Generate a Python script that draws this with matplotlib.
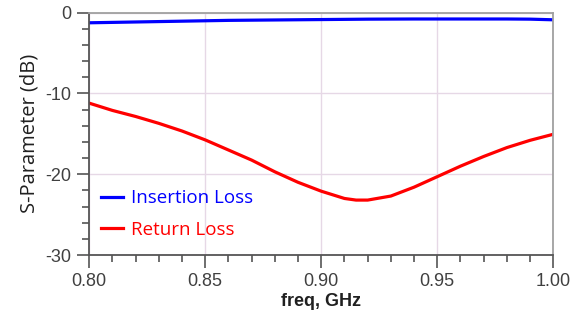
import matplotlib
matplotlib.use("Agg")
import matplotlib.pyplot as plt
from matplotlib.ticker import MultipleLocator

freq = [0.80, 0.81, 0.82, 0.83, 0.84, 0.85, 0.86, 0.87, 0.88, 0.89, 0.90,
        0.91, 0.915, 0.92, 0.93, 0.94, 0.95, 0.96, 0.97, 0.98, 0.99, 1.00]
return_loss = [-11.2, -12.1, -12.85, -13.7, -14.65, -15.75, -17.0, -18.25, -19.7, -21.0, -22.1,
               -23.0, -23.2, -23.2, -22.7, -21.6, -20.3, -19.0, -17.8, -16.7, -15.8, -15.05]
freq_il = [0.80, 0.82, 0.84, 0.86, 0.88, 0.90, 0.92, 0.94, 0.96, 0.98, 0.99, 1.00]
insertion_loss = [-1.25, -1.15, -1.05, -0.95, -0.9, -0.85, -0.8, -0.78, -0.78, -0.78, -0.8, -0.88]

x_ticks = [0.80, 0.85, 0.90, 0.95, 1.00]
x_ticklabels = ["0.80", "0.85", "0.90", "0.95", "1.00"]
y_ticks = [0, -10, -20, -30]
y_ticklabels = ["0", "-10", "-20", "-30"]

plt.rcParams['font.family'] = ['Liberation Sans', 'DejaVu Sans']

fig = plt.figure(figsize=(5.87, 3.23), dpi=100)
ax = fig.add_axes([0.152, 0.2105, 0.7906, 0.7502])

ax.plot(freq_il, insertion_loss, color="#0000ff", lw=2.3, label="Insertion Loss")
ax.plot(freq, return_loss, color="#ff0000", lw=2.3, label="Return Loss")

ax.set_xlim(0.80, 1.00)
ax.set_ylim(-30, 0)
ax.set_xticks(x_ticks)
ax.set_xticklabels(x_ticklabels)
ax.set_yticks(y_ticks)
ax.set_yticklabels(y_ticklabels)
ax.xaxis.set_minor_locator(MultipleLocator(0.01))
ax.yaxis.set_minor_locator(MultipleLocator(2))

ax.grid(True, which="major", color="#e6d8e6", lw=1.0)
ax.set_axisbelow(True)

ax.tick_params(which="major", direction="out", length=9, width=1.2, color="#555555",
               labelsize=13, labelcolor="#404040", pad=4)
ax.tick_params(which="minor", direction="out", length=5, width=1.2, color="#555555")

for s in ["left", "bottom"]:
    ax.spines[s].set_color("#555555")
    ax.spines[s].set_linewidth(1.3)
for s in ["top", "right"]:
    ax.spines[s].set_color("#a0a0a0")
    ax.spines[s].set_linewidth(1.3)

ax.set_xlabel("freq, GHz", fontsize=13, fontweight="bold", color="#202020", labelpad=2)
ax.set_ylabel("S-Parameter (dB)", fontsize=14.5, family=["Open Sans", "DejaVu Sans"],
              color="#202020", labelpad=4)

leg = ax.legend(loc="upper left", bbox_to_anchor=(-0.012, 0.34), frameon=False,
                prop={"family": ["Open Sans", "DejaVu Sans"], "size": 13.5},
                handlelength=1.2, handletextpad=0.4, labelspacing=0.7,
                borderaxespad=0.5)
for text, col in zip(leg.get_texts(), ["#0000ff", "#ff0000"]):
    text.set_color(col)

fig.savefig("out.png", dpi=100)
